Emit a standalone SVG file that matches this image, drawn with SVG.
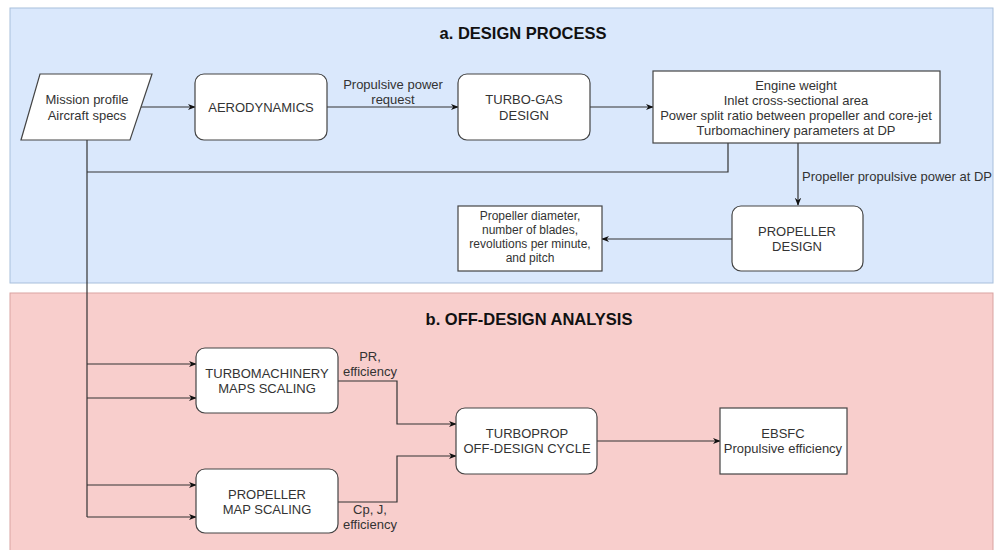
<svg xmlns="http://www.w3.org/2000/svg" width="995" height="550" viewBox="0 0 995 550">
<style>
text{font-family:"Liberation Sans",Arial,sans-serif;fill:#333}
.t{font-size:13px;text-anchor:middle}
.s{font-size:13px;text-anchor:middle}
.r{font-size:12px;text-anchor:middle}
.h{font-size:16.5px;font-weight:bold;text-anchor:middle;fill:#111}
.box{fill:#fff;stroke:#444;stroke-width:1.2}
.ln{fill:none;stroke:#333;stroke-width:1.2}
</style>
<defs>
<marker id="a" viewBox="0 0 10 10" refX="9" refY="5" markerWidth="8" markerHeight="8" orient="auto" markerUnits="userSpaceOnUse">
<path d="M0,1 L10,5 L0,9 L3,5 z" fill="#111"/>
</marker>
</defs>
<rect width="995" height="550" fill="#fff"/>
<g id="panel-a">
<rect x="10" y="8" width="983" height="275" fill="#dae8fc" stroke="#a8bfdc" stroke-width="1"/>
<text class="h" x="523" y="39">a. DESIGN PROCESS</text>
</g>
<g id="panel-b">
<rect x="10" y="293" width="983" height="262" fill="#f8cecc" stroke="#d9a3a1" stroke-width="1"/>
<text class="h" x="529" y="325">b. OFF-DESIGN ANALYSIS</text>
</g>
<g id="connectors">
<path class="ln" d="M141,107 H195" marker-end="url(#a)"/>
<path class="ln" d="M327,107 H458" marker-end="url(#a)"/>
<path class="ln" d="M590,107 H653" marker-end="url(#a)"/>
<path class="ln" d="M728,143 V172 H87"/>
<path class="ln" d="M87,140 V517"/>
<path class="ln" d="M798,143 V205" marker-end="url(#a)"/>
<path class="ln" d="M732,239 H602" marker-end="url(#a)"/>
<path class="ln" d="M87,364 H196" marker-end="url(#a)"/>
<path class="ln" d="M87,398 H196" marker-end="url(#a)"/>
<path class="ln" d="M87,485 H196" marker-end="url(#a)"/>
<path class="ln" d="M87,517 H196" marker-end="url(#a)"/>
<path class="ln" d="M338,381 H397 V424 H456" marker-end="url(#a)"/>
<path class="ln" d="M338,502 H397 V456 H456" marker-end="url(#a)"/>
<path class="ln" d="M597,441 H720" marker-end="url(#a)"/>
<text class="s" x="393" y="89">Propulsive power</text>
<text class="s" x="393" y="104">request</text>
<text class="s" x="802" y="181" style="text-anchor:start">Propeller propulsive power at DP</text>
<text class="s" x="370" y="361">PR,</text>
<text class="s" x="370" y="376">efficiency</text>
<text class="s" x="370" y="514">Cp, J,</text>
<text class="s" x="370" y="529">efficiency</text>
</g>
<g id="mission">
<path class="box" d="M40,74 H152 L130,140 H21 Z"/>
<text class="t" x="87" y="104">Mission profile</text>
<text class="t" x="87" y="120">Aircraft specs</text>
</g>
<g id="aerodynamics">
<rect class="box" x="195" y="74" width="132" height="66" rx="9"/>
<text class="t" x="261" y="112">AERODYNAMICS</text>
</g>
<g id="turbogas">
<rect class="box" x="458" y="74" width="132" height="66" rx="9"/>
<text class="t" x="524" y="104">TURBO-GAS</text>
<text class="t" x="524" y="120">DESIGN</text>
</g>
<g id="outputs">
<rect class="box" x="653" y="71" width="287" height="72"/>
<text class="s" x="796" y="90">Engine weight</text>
<text class="s" x="796" y="105">Inlet cross-sectional area</text>
<text class="s" x="796" y="120">Power split ratio between propeller and core-jet</text>
<text class="s" x="796" y="135">Turbomachinery parameters at DP</text>
</g>
<g id="propeller-design">
<rect class="box" x="732" y="206" width="131" height="65" rx="9"/>
<text class="t" x="797" y="236">PROPELLER</text>
<text class="t" x="797" y="251">DESIGN</text>
</g>
<g id="propeller-params">
<rect class="box" x="458" y="206" width="144" height="65"/>
<text class="r" x="530" y="220">Propeller diameter,</text>
<text class="r" x="530" y="234">number of blades,</text>
<text class="r" x="530" y="248">revolutions per minute,</text>
<text class="r" x="530" y="262">and pitch</text>
</g>
<g id="turbomachinery">
<rect class="box" x="196" y="348" width="142" height="65" rx="9"/>
<text class="t" x="267" y="378">TURBOMACHINERY</text>
<text class="t" x="267" y="393">MAPS SCALING</text>
</g>
<g id="propeller-map">
<rect class="box" x="196" y="469" width="142" height="64" rx="9"/>
<text class="t" x="267" y="499">PROPELLER</text>
<text class="t" x="267" y="514">MAP SCALING</text>
</g>
<g id="turboprop">
<rect class="box" x="456" y="408" width="141" height="66" rx="9"/>
<text class="t" x="527" y="438">TURBOPROP</text>
<text class="t" x="527" y="453">OFF-DESIGN CYCLE</text>
</g>
<g id="ebsfc">
<rect class="box" x="720" y="408" width="127" height="66"/>
<text class="s" x="783" y="438">EBSFC</text>
<text class="s" x="783" y="453">Propulsive efficiency</text>
</g>
</svg>
